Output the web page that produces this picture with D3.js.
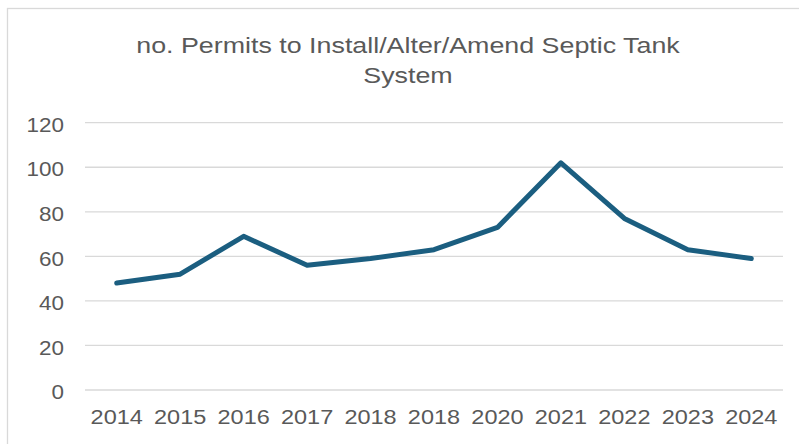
<!DOCTYPE html>
<html>
<head>
<meta charset="utf-8">
<script src="https://cdn.jsdelivr.net/npm/d3@7"></script>
<style>
  body { margin: 0; background: #fff; }
  svg { display: block; font-family: "Liberation Sans", Arial, sans-serif; }
</style>
</head>
<body>
<svg id="chart" width="799" height="444"></svg>
<script>
// data (the duplicated 2018 label is in the original)
var years = ["2014", "2015", "2016", "2017", "2018", "2018", "2020", "2021", "2022", "2023", "2024"];
var permits = [48, 52, 69, 56, 59, 63, 73, 102, 77, 63, 59];
var yTicks = [0, 20, 40, 60, 80, 100, 120];
var titleLines = ["no. Permits to Install/Alter/Amend Septic Tank", "System"];

var svg = d3.select("#chart");
var margin = { left: 85, right: 16, top: 122.7, bottom: 54 };
var width = 799, height = 444;

// chart frame (runs off the right and bottom edges)
svg.append("rect")
    .attr("x", 7.5).attr("y", 8.5)
    .attr("width", 820).attr("height", 480)
    .attr("fill", "none")
    .attr("stroke", "#d9d9d9")
    .attr("stroke-width", 1.3);

var x = d3.scaleBand()
    .domain(d3.range(years.length))
    .range([margin.left, width - margin.right]);

var y = d3.scaleLinear()
    .domain([0, 120])
    .range([390, margin.top]);

// gridlines
svg.append("g")
    .selectAll("line")
    .data(yTicks)
    .join("line")
    .attr("x1", margin.left)
    .attr("x2", width - margin.right)
    .attr("y1", function (d) { return y(d); })
    .attr("y2", function (d) { return y(d); })
    .attr("stroke", "#d9d9d9")
    .attr("stroke-width", 1.3);

// y axis labels (the original text is slightly stretched sideways)
var yAxis = svg.append("g")
    .attr("transform", "translate(64,2)")
    .call(d3.axisLeft(y).tickValues(yTicks).tickSize(0).tickPadding(0));
yAxis.select(".domain").remove();
yAxis.selectAll("text")
    .attr("fill", "#595959")
    .attr("transform", "scale(1.07,1)")
    .style("font-size", "21px");

// x axis labels
var xAxis = svg.append("g")
    .attr("transform", "translate(0,409.5)")
    .call(d3.axisBottom(x).tickFormat(function (i) { return years[i]; }).tickSize(0).tickPadding(0));
xAxis.select(".domain").remove();
xAxis.selectAll("text")
    .attr("fill", "#595959")
    .attr("transform", "scale(1.12,1)")
    .style("font-size", "21px");

// the series line
var line = d3.line()
    .x(function (d, i) { return x(i) + x.bandwidth() / 2; })
    .y(function (d) { return y(d); });

svg.append("path")
    .datum(permits)
    .attr("d", line)
    .attr("fill", "none")
    .attr("stroke", "#1b5e80")
    .attr("stroke-width", 5)
    .attr("stroke-linejoin", "round")
    .attr("stroke-linecap", "round");

// title
var title = svg.append("g")
    .attr("transform", "translate(408,52.7) scale(1.22,1)")
    .append("text")
    .attr("text-anchor", "middle")
    .attr("fill", "#595959")
    .style("font-size", "22px");
title.selectAll("tspan")
    .data(titleLines)
    .join("tspan")
    .attr("x", 0)
    .attr("dy", function (d, i) { return i === 0 ? 0 : 30.6; })
    .text(function (d) { return d; });
</script>
</body>
</html>
